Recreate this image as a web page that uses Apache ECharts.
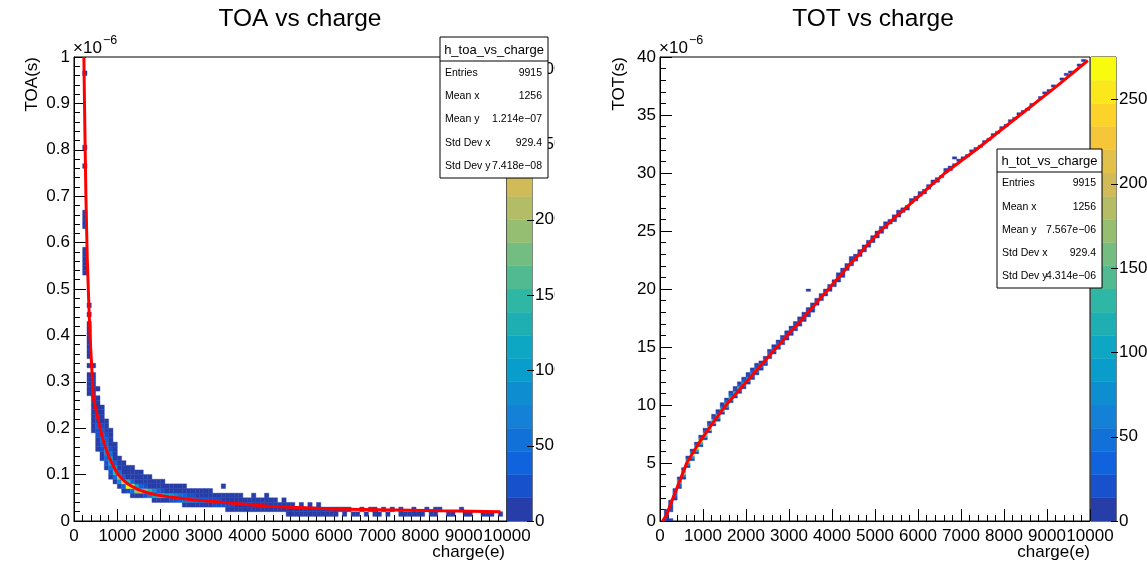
<!DOCTYPE html>
<html>
<head>
<meta charset="utf-8">
<script src="https://cdn.jsdelivr.net/npm/echarts@6/dist/echarts.min.js"></script>
<style>
  html, body { margin: 0; padding: 0; background: #fff; }
  #chart { width: 1147px; height: 564px; }
</style>
</head>
<body>
<div id="chart"></div>
<script>
// ---------------- data ----------------
// Both histograms use 100 e charge bins.
const chargeBinWidth = 100;
// TOA bins: 0.01 (x1e-6 s); TOT bins: 0.2 (x1e-6 s)
const toaBinHeight = 0.01;
const totBinHeight = 0.2;
// Palette ranges (z axis maxima)
const toaZmax = 308;
const totZmax = 275;
const paletteTicks = [0, 50, 100, 150, 200, 250, 300];

// h_toa_vs_charge cells: [charge bin low edge, first TOA bin index, entries per bin going up]
const toaColumns = [
  [200, 53, [1, 1, 2, 2, 2, 2]],
  [200, 63, [1, 1, 1, 1]],
  [200, 76, [1]], [200, 80, [1]], [200, 96, [1]],
  [300, 27, [2, 3, 4, 3, 2, 0, 1, 0, 2, 3, 4, 4, 3, 3, 2, 1, 0, 1, 0, 1]],
  [400, 19, [1, 2, 3, 4, 6, 8, 10, 12, 14, 12, 8, 4, 2, 0, 1]],
  [500, 15, [2, 5, 10, 18, 26, 32, 30, 22, 14, 8, 4, 2, 0, 1]],
  [600, 13, [4, 12, 26, 42, 55, 50, 36, 22, 12, 6, 3, 1]],
  [700, 11, [5, 16, 40, 70, 80, 60, 34, 16, 8, 4, 2]],
  [800, 9, [4, 20, 60, 110, 95, 50, 20, 10, 6, 4, 2]],
  [900, 8, [8, 50, 150, 120, 40, 12, 6, 4, 2]],
  [1000, 7, [10, 90, 190, 60, 10, 5, 2]],
  [1100, 6, [4, 40, 260, 40, 10, 4, 2]],
  [1200, 6, [30, 300, 150, 12, 4, 2]],
  [1300, 5, [3, 50, 280, 40, 6, 3, 1]],
  [1400, 5, [10, 200, 110, 12, 4, 2]],
  [1500, 5, [15, 230, 40, 8, 3, 1]],
  [1600, 5, [30, 200, 20, 6, 3]],
  [1700, 5, [60, 150, 12, 5, 2]],
  [1800, 4, [2, 110, 80, 8, 4]],
  [1900, 4, [4, 130, 40, 6, 3]],
  [2000, 4, [6, 140, 20, 5, 2]],
  [2100, 4, [10, 120, 12, 4]],
  [2200, 4, [20, 100, 8, 3]],
  [2300, 4, [30, 70, 6, 2]],
  [2400, 4, [40, 50, 5, 2]],
  [2500, 3, [2, 50, 35, 4, 1]],
  [2600, 3, [3, 55, 25, 3]],
  [2700, 3, [4, 55, 18, 2]],
  [2800, 3, [6, 50, 12, 2]],
  [2900, 3, [8, 45, 8, 1]],
  [3000, 3, [12, 38, 6, 1]],
  [3100, 3, [15, 30, 5, 1]],
  [3200, 3, [18, 24, 4]],
  [3300, 3, [20, 18, 3]],
  [3400, 3, [20, 14, 3, 0, 1]],
  [3500, 2, [2, 18, 10, 2]],
  [3600, 2, [3, 16, 8, 2]],
  [3700, 2, [4, 14, 6, 1]],
  [3800, 2, [5, 12, 4, 1]],
  [3900, 2, [6, 10, 3]],
  [4000, 2, [7, 8, 3]],
  [4100, 2, [8, 6, 2, 1]],
  [4200, 2, [8, 5, 2]],
  [4300, 2, [8, 4, 1]],
  [4400, 2, [7, 3, 1, 1]],
  [4500, 2, [7, 3, 1]],
  [4600, 2, [6, 2, 1]],
  [4700, 2, [6, 2]],
  [4800, 2, [5, 2, 1]],
  [4900, 1, [1, 5, 1]],
  [5000, 1, [2, 4, 1]],
  [5100, 1, [2, 4]],
  [5200, 1, [2, 3, 1]],
  [5300, 1, [3, 3]],
  [5400, 1, [3, 2, 1]],
  [5500, 1, [3, 2]],
  [5600, 1, [3, 1, 1]],
  [5700, 1, [2, 2]],
  [5800, 1, [3, 1]],
  [5900, 1, [2, 1]],
  [6000, 1, [2, 1]], [6100, 2, [1]], [6200, 1, [1, 1]], [6300, 2, [1]],
  [6400, 1, [1]], [6500, 1, [2]], [6600, 2, [1]], [6700, 1, [1]],
  [6800, 2, [1]], [6900, 1, [1, 1]], [7000, 1, [1]], [7100, 2, [1]],
  [7200, 1, [1]], [7300, 2, [1]], [7500, 1, [1, 1]], [7600, 1, [1]],
  [7700, 1, [2]], [7800, 1, [1, 1]], [7900, 1, [1]], [8000, 1, [1]],
  [8100, 2, [1]], [8200, 1, [1]], [8300, 1, [1, 1]], [8400, 2, [1]],
  [8600, 1, [1]], [8700, 1, [1]], [8900, 2, [1]], [9000, 1, [1]],
  [9100, 1, [1]], [9400, 1, [1]], [9500, 1, [1]], [9600, 1, [1]], [9800, 1, [1]]
];

// h_tot_vs_charge cells: [charge bin low edge, first TOT bin index, entries per bin going up]
const totColumns = [
  [100, 0, [1, 2, 4, 3, 1]],
  [200, 0, [1]], [200, 4, [2, 8, 16, 10, 3]],
  [300, 9, [4, 20, 50, 30, 6]],
  [400, 14, [6, 40, 110, 70, 10]],
  [500, 18, [8, 60, 170, 100, 12]],
  [600, 23, [10, 80, 230, 90, 10]],
  [700, 26, [10, 90, 260, 80, 8]],
  [800, 29, [10, 110, 275, 70, 6]],
  [900, 32, [8, 120, 250, 60, 5]],
  [1000, 35, [6, 130, 220, 50, 4]],
  [1100, 38, [5, 160, 160, 30, 3]],
  [1200, 41, [4, 150, 150, 25, 3]],
  [1300, 43, [4, 90, 180, 40, 3]],
  [1400, 46, [3, 140, 120, 20, 2]],
  [1500, 48, [3, 80, 150, 30, 2]],
  [1600, 51, [2, 120, 100, 15, 2]],
  [1700, 53, [2, 80, 120, 20, 1]],
  [1800, 55, [2, 60, 110, 30, 1]],
  [1900, 57, [2, 50, 100, 25, 1]],
  [2000, 59, [2, 45, 95, 20, 1]],
  [2100, 61, [1, 40, 85, 18, 1]],
  [2200, 63, [1, 35, 80, 15, 1]],
  [2300, 65, [1, 30, 75, 12]],
  [2400, 67, [1, 28, 65, 10]],
  [2500, 70, [1, 55, 35, 5]],
  [2600, 72, [1, 48, 32, 4]],
  [2700, 74, [1, 45, 28, 3]],
  [2800, 76, [1, 40, 25, 3]],
  [2900, 78, [1, 36, 22, 2]],
  [3000, 80, [1, 32, 20, 2]],
  [3100, 82, [1, 29, 18, 2]],
  [3200, 84, [1, 26, 16, 1]],
  [3300, 86, [1, 23, 14, 1]],
  [3400, 88, [1, 20, 13, 1]], [3400, 99, [1]],
  [3500, 90, [1, 18, 12, 1]],
  [3600, 93, [1, 20, 8]],
  [3700, 95, [1, 17, 7]],
  [3800, 97, [1, 15, 6]],
  [3900, 99, [1, 13, 5]],
  [4000, 101, [1, 12, 5]],
  [4100, 103, [1, 8, 8, 1]],
  [4200, 105, [1, 7, 7, 1]],
  [4300, 108, [1, 10, 3]],
  [4400, 110, [1, 5, 5, 1]],
  [4500, 112, [1, 5, 4]],
  [4600, 114, [1, 4, 4]],
  [4700, 116, [1, 4, 3]],
  [4800, 118, [1, 3, 3]],
  [4900, 120, [1, 3, 3]],
  [5000, 122, [1, 3, 2]],
  [5100, 124, [1, 2, 2]],
  [5200, 126, [1, 2, 2]],
  [5300, 128, [2, 2]],
  [5400, 129, [1, 2, 1]],
  [5500, 131, [1, 2, 1]],
  [5600, 133, [2, 1]],
  [5700, 134, [1, 2]],
  [5800, 137, [2, 1]],
  [5900, 138, [1, 2]],
  [6000, 140, [2, 1]],
  [6100, 141, [1, 1]],
  [6200, 143, [1, 2]],
  [6300, 145, [1, 1]],
  [6400, 146, [1, 1]],
  [6500, 148, [2]],
  [6600, 150, [1, 1]],
  [6700, 151, [1, 1]],
  [6800, 153, [1]], [6800, 156, [1]],
  [6900, 155, [1]], [7000, 156, [1]], [7100, 157, [1]], [7200, 159, [1]],
  [7300, 160, [1]], [7400, 161, [1]], [7500, 163, [1]], [7600, 164, [1]],
  [7700, 166, [1]], [7800, 167, [1]], [7900, 169, [1]], [8000, 170, [1]],
  [8100, 172, [1]], [8200, 173, [1]], [8300, 175, [1]], [8400, 176, [1]],
  [8500, 177, [1]], [8600, 179, [1]], [8800, 182, [1]], [8900, 184, [1]],
  [9000, 185, [1]], [9100, 187, [1]], [9300, 190, [1]], [9400, 192, [1]],
  [9500, 193, [1]], [9700, 196, [1]], [9800, 198, [1]]
];

// Fitted curves (red)
const toaFitCharge = [228, 250, 275, 306, 330, 369, 422, 445, 500, 576, 650, 720, 806, 900, 998, 1100, 1228, 1350, 1498, 1700, 1920, 2200, 2458, 2800, 3226, 3600, 4070, 4500, 4977, 5500, 5968, 6700, 7435, 8500, 9850];
const toaFitValue = [1.0, 0.85, 0.70, 0.568, 0.50, 0.40, 0.31, 0.266, 0.243, 0.211, 0.182, 0.16, 0.139, 0.12, 0.103, 0.092, 0.081, 0.074, 0.067, 0.061, 0.056, 0.052, 0.049, 0.045, 0.042, 0.039, 0.035, 0.032, 0.0296, 0.028, 0.026, 0.025, 0.0238, 0.022, 0.020];
const totFitCharge = [60, 150, 250, 400, 620, 900, 1200, 1512, 2054, 2720, 3400, 4342, 5116, 5900, 6628, 7365, 8372, 9200, 9950];
const totFitValue = [0, 0.5, 1.5, 2.9, 5.0, 6.7, 8.3, 9.9, 12.2, 15.0, 17.8, 21.8, 25.0, 27.6, 30.0, 32.05, 35.0, 37.4, 39.7];

// Statistics boxes
const toaStats = [['Entries', '9915'], ['Mean x', '1256'], ['Mean y', '1.214e\u221207'], ['Std Dev x', '929.4'], ['Std Dev y', '7.418e\u221208']];
const totStats = [['Entries', '9915'], ['Mean x', '1256'], ['Mean y', '7.567e\u221206'], ['Std Dev x', '929.4'], ['Std Dev y', '4.314e\u221206']];

// ---------------- palette ----------------
const FONT = '"Liberation Sans", Arial, Helvetica, sans-serif';
const birdStops = [0, 0.125, 0.25, 0.375, 0.5, 0.625, 0.75, 0.875, 1];
const birdR = [0.2082, 0.0592, 0.0780, 0.0232, 0.1802, 0.5301, 0.8186, 0.9956, 0.9764];
const birdG = [0.1664, 0.3599, 0.5041, 0.6419, 0.7178, 0.7492, 0.7328, 0.7862, 0.9832];
const birdB = [0.5293, 0.8684, 0.8385, 0.7914, 0.6425, 0.4662, 0.3499, 0.1968, 0.0539];
const NLEVELS = 20;

function birdAt(t) {
  t = Math.max(0, Math.min(1, t));
  let i = 0;
  while (i < birdStops.length - 2 && t > birdStops[i + 1]) i++;
  const f = (t - birdStops[i]) / (birdStops[i + 1] - birdStops[i]);
  const c = (a) => Math.round(255 * (a[i] + f * (a[i + 1] - a[i])));
  return 'rgb(' + c(birdR) + ',' + c(birdG) + ',' + c(birdB) + ')';
}
function levelColor(k) {
  const idx = Math.floor((k + 0.99) * 255 / NLEVELS);
  return birdAt(idx / 254);
}
function countColor(n, zmax) {
  const k = Math.min(NLEVELS - 1, Math.floor(n / zmax * NLEVELS));
  return levelColor(k);
}

// ---------------- helpers ----------------
function buildCells(cols, binH) {
  const out = [];
  cols.forEach(([q, j0, counts]) => {
    counts.forEach((n, k) => {
      if (n > 0) out.push([q, (j0 + k) * binH, q + chargeBinWidth, (j0 + k + 1) * binH, n]);
    });
  });
  return out;
}
function buildBands(zmax) {
  const out = [];
  for (let k = 0; k < NLEVELS; k++) out.push([k * zmax / NLEVELS, (k + 1) * zmax / NLEVELS, k]);
  return out;
}
function zip(a, b) { return a.map((v, i) => [v, b[i]]); }

function cellRenderer(zmax) {
  return function (params, api) {
    const a = api.coord([api.value(0), api.value(3)]);
    const b = api.coord([api.value(2), api.value(1)]);
    const col = countColor(api.value(4), zmax);
    return {
      type: 'rect',
      shape: { x: a[0], y: a[1], width: b[0] - a[0], height: b[1] - a[1] },
      style: { fill: col, stroke: col, lineWidth: 0.4 }
    };
  };
}
function bandRenderer(params, api) {
  const a = api.coord([0, api.value(1)]);
  const b = api.coord([1, api.value(0)]);
  const col = levelColor(api.value(2));
  return {
    type: 'rect',
    shape: { x: a[0], y: a[1], width: b[0] - a[0], height: b[1] - a[1] },
    style: { fill: col, stroke: col, lineWidth: 0.4 }
  };
}
// palette axis: tick on the right edge of the colour strip plus its label
function paletteTickRenderer(params, api) {
  const v = api.value(0);
  const p = api.coord([1, v]);
  const y = Math.round(p[1]) + 0.5;
  return {
    type: 'group',
    children: [
      { type: 'line', shape: { x1: p[0] - 5, y1: y, x2: p[0] + 2, y2: y },
        style: { stroke: '#000', lineWidth: 1 } },
      { type: 'text', x: p[0] + 3, y: p[1],
        style: { text: String(v), font: '17px ' + FONT, fill: '#000', align: 'left', verticalAlign: 'middle' } }
    ]
  };
}

const axisBase = {
  axisLine: { show: true, onZero: false, lineStyle: { color: '#000', width: 1 } },
  axisTick: { show: true, inside: true, length: 12, lineStyle: { color: '#000', width: 1 } },
  minorTick: { show: true, splitNumber: 5, length: 6, lineStyle: { color: '#000', width: 1 } },
  splitLine: { show: false },
  minorSplitLine: { show: false }
};
function chargeAxis(gridIndex) {
  return Object.assign({}, axisBase, {
    type: 'value', gridIndex, min: 0, max: 10000, interval: 1000,
    axisLabel: {
      color: '#000', fontSize: 17, fontFamily: FONT, margin: 7,
      showMinLabel: true, showMaxLabel: true, hideOverlap: false,
      formatter: (v) => String(v)
    }
  });
}
function valueAxis(gridIndex, max, interval) {
  return Object.assign({}, axisBase, {
    type: 'value', gridIndex, min: 0, max, interval,
    axisLabel: {
      color: '#000', fontSize: 17, fontFamily: FONT, margin: 4,
      showMinLabel: true, showMaxLabel: true, hideOverlap: false,
      formatter: (v) => String(+v.toFixed(2))
    }
  });
}
function paletteXAxis(gridIndex) {
  return { type: 'value', gridIndex, min: 0, max: 1, show: false };
}
function paletteYAxis(gridIndex, zmax) {
  return { type: 'value', gridIndex, min: 0, max: zmax, show: false };
}

const TOP_Z = 300;
function statsBox(x, y, w, titleH, rowH, title, rows) {
  const els = [
    { type: 'rect', z: TOP_Z, shape: { x, y, width: w, height: titleH + rowH * rows.length },
      style: { fill: '#fff', stroke: '#000', lineWidth: 1 } },
    { type: 'line', z: TOP_Z + 1, shape: { x1: x, y1: y + titleH, x2: x + w, y2: y + titleH },
      style: { stroke: '#000', lineWidth: 1 } },
    { type: 'text', z: TOP_Z + 1, x: x + w / 2, y: y + titleH / 2 + 1,
      style: { text: title, font: '13px ' + FONT, fill: '#000', align: 'center', verticalAlign: 'middle' } }
  ];
  rows.forEach(([label, val], i) => {
    const cy = y + titleH + rowH * (i + 0.5);
    els.push({ type: 'text', z: TOP_Z + 1, x: x + 5, y: cy,
      style: { text: label, font: '10.5px ' + FONT, fill: '#000', align: 'left', verticalAlign: 'middle' } });
    els.push({ type: 'text', z: TOP_Z + 2, x: x + w - 6, y: cy,
      style: { text: val, font: '10.5px ' + FONT, fill: '#000', align: 'right', verticalAlign: 'middle' } });
  });
  return els;
}

function txt(x, y, text, size, align, vAlign, extra) {
  return Object.assign({ type: 'text', x, y, z: 150,
    style: { text, font: size + 'px ' + FONT, fill: '#000', align, verticalAlign: vAlign } }, extra || {});
}

// ---------------- chart ----------------
const chart = echarts.init(document.getElementById('chart'), null, { renderer: 'canvas' });

const gridFrame = { show: true, borderColor: '#000', borderWidth: 1, backgroundColor: 'transparent', containLabel: false };

chart.setOption({
  animation: false,
  backgroundColor: '#fff',
  grid: [
    Object.assign({ left: 74, top: 57, width: 433, height: 464 }, gridFrame),
    Object.assign({ left: 507, top: 57, width: 25, height: 464 }, gridFrame),
    Object.assign({ left: 660, top: 57, width: 430, height: 464 }, gridFrame),
    Object.assign({ left: 1091, top: 57, width: 25, height: 464 }, gridFrame)
  ],
  xAxis: [chargeAxis(0), paletteXAxis(1), chargeAxis(2), paletteXAxis(3)],
  yAxis: [valueAxis(0, 1, 0.1), paletteYAxis(1, toaZmax), valueAxis(2, 40, 5), paletteYAxis(3, totZmax)],
  series: [
    {
      type: 'custom', name: 'h_toa_vs_charge', xAxisIndex: 0, yAxisIndex: 0, clip: true, z: 2,
      renderItem: cellRenderer(toaZmax), encode: { x: [0, 2], y: [1, 3] },
      data: buildCells(toaColumns, toaBinHeight)
    },
    {
      type: 'line', name: 'toa fit', xAxisIndex: 0, yAxisIndex: 0, z: 5, showSymbol: false, symbol: 'none',
      lineStyle: { color: '#ff0000', width: 3 }, data: zip(toaFitCharge, toaFitValue), clip: true
    },
    {
      type: 'custom', name: 'toa palette', xAxisIndex: 1, yAxisIndex: 1, z: 2,
      renderItem: bandRenderer, encode: { x: [], y: [0, 1] }, data: buildBands(toaZmax)
    },
    {
      type: 'custom', name: 'toa palette axis', xAxisIndex: 1, yAxisIndex: 1, z: 3,
      renderItem: paletteTickRenderer, encode: { x: [], y: [0] },
      data: paletteTicks.filter((v) => v <= toaZmax).map((v) => [v])
    },
    {
      type: 'custom', name: 'h_tot_vs_charge', xAxisIndex: 2, yAxisIndex: 2, clip: true, z: 2,
      renderItem: cellRenderer(totZmax), encode: { x: [0, 2], y: [1, 3] },
      data: buildCells(totColumns, totBinHeight)
    },
    {
      type: 'line', name: 'tot fit', xAxisIndex: 2, yAxisIndex: 2, z: 5, showSymbol: false, symbol: 'none',
      lineStyle: { color: '#ff0000', width: 3 }, data: zip(totFitCharge, totFitValue), clip: true
    },
    {
      type: 'custom', name: 'tot palette', xAxisIndex: 3, yAxisIndex: 3, z: 2,
      renderItem: bandRenderer, encode: { x: [], y: [0, 1] }, data: buildBands(totZmax)
    },
    {
      type: 'custom', name: 'tot palette axis', xAxisIndex: 3, yAxisIndex: 3, z: 3,
      renderItem: paletteTickRenderer, encode: { x: [], y: [0] },
      data: paletteTicks.filter((v) => v <= totZmax).map((v) => [v])
    }
  ],
  graphic: {
    z: 100,
    elements: [
      // right pad background covers the left palette labels where the pads meet
      { type: 'rect', z: 120, shape: { x: 555, y: 0, width: 45, height: 564 }, style: { fill: '#fff' } },
      txt(300, 19, 'TOA vs charge', 24.5, 'center', 'middle'),
      txt(873, 19, 'TOT vs charge', 24.5, 'center', 'middle'),
      txt(73, 57, '\u00d710', 17, 'left', 'bottom'),
      txt(103, 47, '\u22126', 12.5, 'left', 'bottom'),
      txt(659, 57, '\u00d710', 17, 'left', 'bottom'),
      txt(689, 47, '\u22126', 12.5, 'left', 'bottom'),
      txt(32, 57, 'TOA(s)', 17, 'right', 'middle', { rotation: Math.PI / 2 }),
      txt(619, 57, 'TOT(s)', 17, 'right', 'middle', { rotation: Math.PI / 2 }),
      txt(505, 552, 'charge(e)', 17, 'right', 'middle'),
      txt(1090, 552, 'charge(e)', 17, 'right', 'middle')
    ].concat(
      statsBox(440, 37, 108, 24, 23.4, 'h_toa_vs_charge', toaStats),
      statsBox(997, 149, 105, 23, 23.2, 'h_tot_vs_charge', totStats)
    )
  }
});
</script>
</body>
</html>
